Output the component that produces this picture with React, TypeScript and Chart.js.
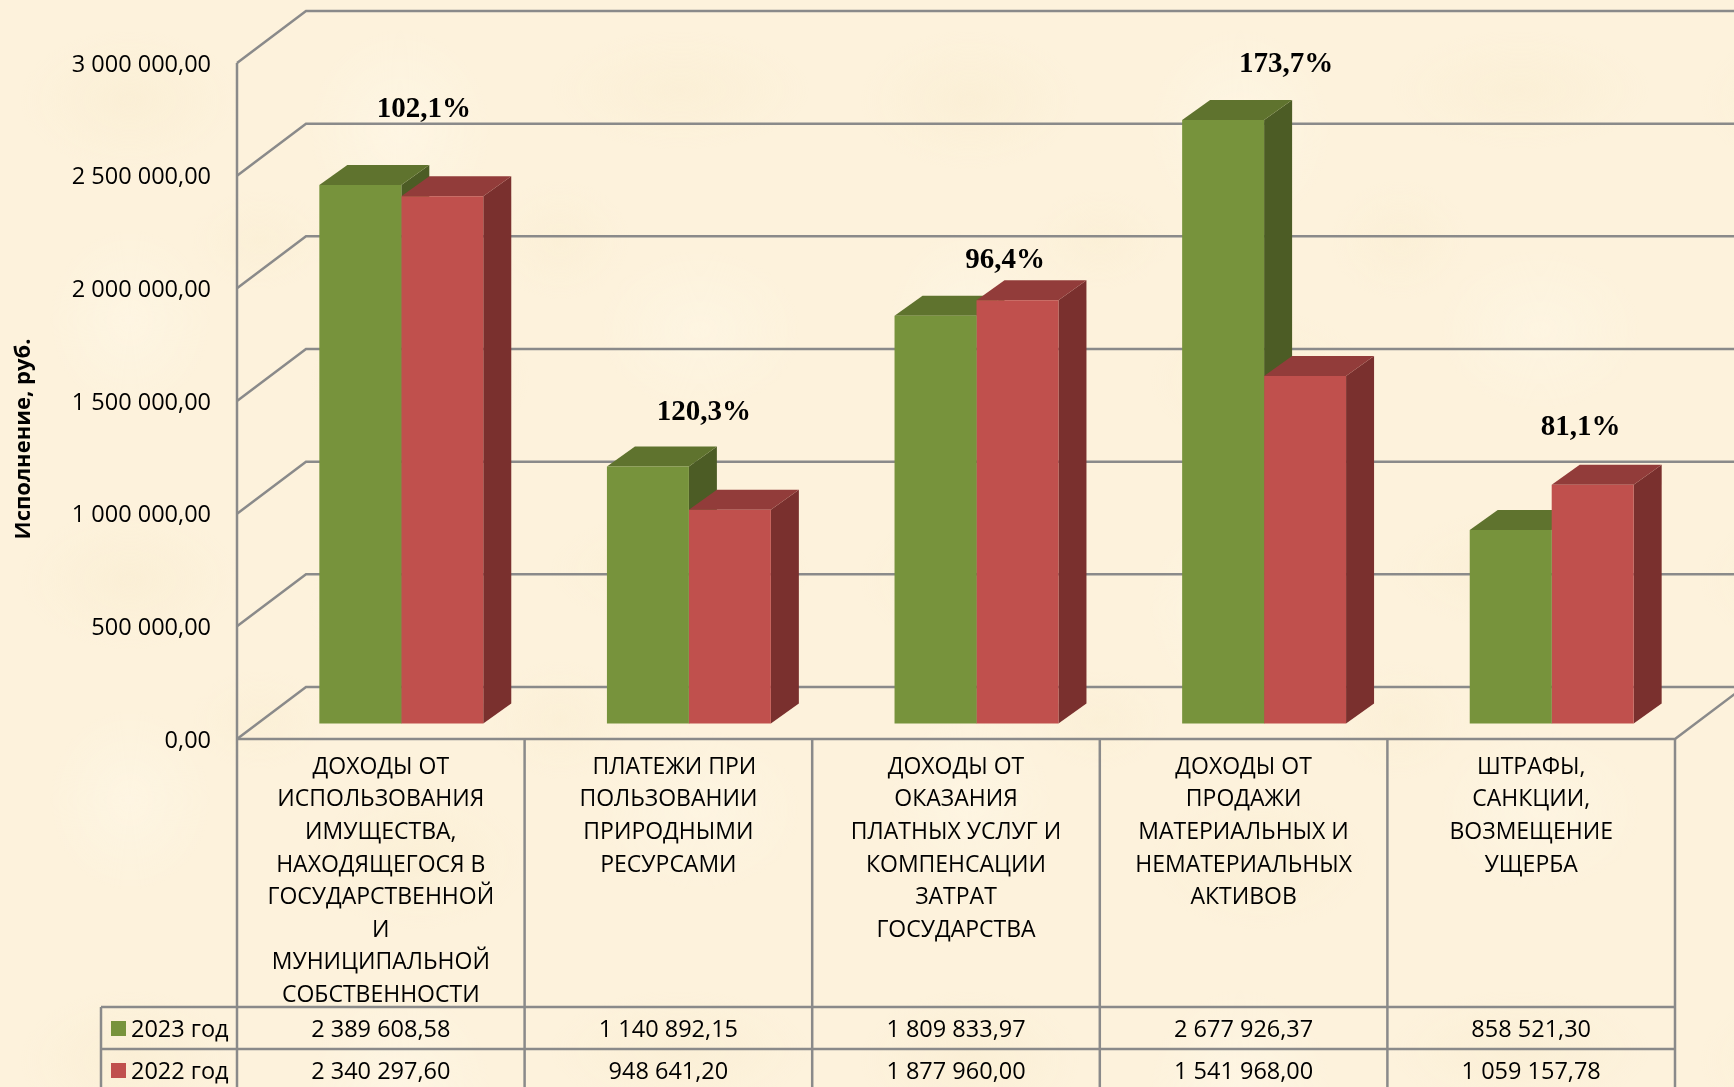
import React, { useEffect, useRef } from "react";
import { Chart, registerables } from "chart.js";

Chart.register(...registerables);

const categories = [
  ["ДОХОДЫ ОТ", "ИСПОЛЬЗОВАНИЯ", "ИМУЩЕСТВА,", "НАХОДЯЩЕГОСЯ В", "ГОСУДАРСТВЕННОЙ", "И", "МУНИЦИПАЛЬНОЙ", "СОБСТВЕННОСТИ"],
  ["  ПЛАТЕЖИ ПРИ", "ПОЛЬЗОВАНИИ", "ПРИРОДНЫМИ", "РЕСУРСАМИ"],
  ["ДОХОДЫ ОТ", "ОКАЗАНИЯ", "ПЛАТНЫХ УСЛУГ И", "КОМПЕНСАЦИИ", "ЗАТРАТ", "ГОСУДАРСТВА"],
  ["ДОХОДЫ ОТ", "ПРОДАЖИ", "МАТЕРИАЛЬНЫХ И", "НЕМАТЕРИАЛЬНЫХ", "АКТИВОВ"],
  ["ШТРАФЫ,", "САНКЦИИ,", "ВОЗМЕЩЕНИЕ", "УЩЕРБА"],
];
const series2023 = [2389608.58, 1140892.15, 1809833.97, 2677926.37, 858521.3];
const series2022 = [2340297.6, 948641.2, 1877960.0, 1541968.0, 1059157.78];
const table2023 = ["2 389 608,58", "1 140 892,15", "1 809 833,97", "2 677 926,37", "858 521,30"];
const table2022 = ["2 340 297,60", "948 641,20", "1 877 960,00", "1 541 968,00", "1 059 157,78"];
const percentLabels = ["102,1%", "120,3%", "96,4%", "173,7%", "81,1%"];
const yTicks = ["0,00", "500 000,00", "1 000 000,00", "1 500 000,00", "2 000 000,00", "2 500 000,00", "3 000 000,00"];

// layout
const W = 1734, H = 1087;
const L = 237, R = 1675, T = 63, B = 739;
const WALL_DX = 69, WALL_DY = 52;
const PLANE_DX = 20.5, PLANE_DY = -15.5;
const BAR_DX = 28, BAR_DY = 20;
const ROW_LINES = [1007, 1049];
const ROW_CENTERS = [1030, 1072];
const TABLE_LEFT = 101;
const labelNudge = [[22.5, -76], [15, -54], [28.5, -40], [22, -56], [29, -57]];
const GRID = "#8a8a8a";
const SANS = "'Open Sans', sans-serif";
const FONT_SIZE = 23;
const NUM_SIZE = 23.5;

const bg = [
  "radial-gradient(ellipse 110px 70px at 130px 100px, rgba(244,228,190,.2), transparent)",
  "radial-gradient(ellipse 90px 100px at 400px 130px, rgba(255,251,238,.4), transparent)",
  "radial-gradient(ellipse 130px 60px at 680px 90px, rgba(244,228,190,.18), transparent)",
  "radial-gradient(ellipse 80px 90px at 130px 320px, rgba(255,251,238,.35), transparent)",
  "radial-gradient(ellipse 110px 70px at 420px 380px, rgba(244,228,190,.18), transparent)",
  "radial-gradient(ellipse 100px 80px at 700px 330px, rgba(255,251,238,.3), transparent)",
  "radial-gradient(ellipse 70px 50px at 260px 240px, rgba(244,228,190,.16), transparent)",
  "radial-gradient(ellipse 70px 60px at 560px 240px, rgba(244,228,190,.16), transparent)",
].join(",");

function line(ctx: any, pts: number[][], color = GRID, w = 2.5) {
  ctx.beginPath();
  ctx.moveTo(pts[0][0], pts[0][1]);
  pts.slice(1).forEach((p) => ctx.lineTo(p[0], p[1]));
  ctx.strokeStyle = color;
  ctx.lineWidth = w;
  ctx.stroke();
}
function poly(ctx: any, pts: number[][], color: string) {
  ctx.beginPath();
  ctx.moveTo(pts[0][0], pts[0][1]);
  pts.slice(1).forEach((p) => ctx.lineTo(p[0], p[1]));
  ctx.closePath();
  ctx.fillStyle = color;
  ctx.fill();
}

const faces = [
  { top: "#5F732E", side: "#4C5C25" },
  { top: "#923C3A", side: "#7A302E" },
];
const keyColors = ["#77933C", "#C0504D"];
const legendNames = ["2023 год", "2022 год"];

const scene3d = {
  id: "scene3d",
  beforeDatasetsDraw(chart: any) {
    const { ctx, scales } = chart;
    ctx.save();
    // walls and grid
    scales.y.ticks.forEach((t: any) => {
      const y = scales.y.getPixelForValue(t.value);
      line(ctx, [[L, y], [L + WALL_DX, y - WALL_DY], [W + 10, y - WALL_DY]]);
    });
    line(ctx, [[L, T], [L, H + 5]]);
    line(ctx, [[L, B], [R, B], [R + WALL_DX, B - WALL_DY]]);
    const cols = categories.length;
    for (let i = 1; i <= cols; i++) {
      const x = L + ((R - L) * i) / cols;
      line(ctx, [[x, B], [x, H + 5]]);
    }
    ROW_LINES.forEach((y) => line(ctx, [[TABLE_LEFT, y], [R, y]]));
    line(ctx, [[TABLE_LEFT, ROW_LINES[0]], [TABLE_LEFT, H + 5]]);

    // data table
    ctx.font = `${NUM_SIZE}px ${SANS}`;
    ctx.fillStyle = "#000";
    ctx.textBaseline = "middle";
    [table2023, table2022].forEach((row, r) => {
      ctx.textAlign = "center";
      ctx.fillStyle = "#000";
      row.forEach((txt, i) => {
        ctx.fillText(txt, scales.x.getPixelForValue(i), ROW_CENTERS[r]);
      });
      ctx.fillStyle = keyColors[r];
      ctx.fillRect(TABLE_LEFT + 10, ROW_CENTERS[r] - 9, 15, 15);
      ctx.fillStyle = "#000";
      ctx.textAlign = "left";
      ctx.fillText(legendNames[r], TABLE_LEFT + 30, ROW_CENTERS[r]);
    });

    // axis title
    ctx.save();
    ctx.translate(24, 439);
    ctx.rotate(-Math.PI / 2);
    ctx.font = `bold 22px ${SANS}`;
    ctx.textAlign = "center";
    ctx.fillText("Исполнение, руб.", 0, 0);
    ctx.restore();
    ctx.restore();

    // bar plane: extrusions behind the library's own fronts
    ctx.save();
    ctx.translate(PLANE_DX, PLANE_DY);
    [0, 1].forEach((d) => {
      chart.getDatasetMeta(d).data.forEach((el: any) => {
        const xl = el.x - el.width / 2, xr = el.x + el.width / 2;
        poly(ctx, [[xr, el.y], [xr + BAR_DX, el.y - BAR_DY], [xr + BAR_DX, el.base - BAR_DY], [xr, el.base]], faces[d].side);
        poly(ctx, [[xl, el.y], [xl + BAR_DX, el.y - BAR_DY], [xr + BAR_DX, el.y - BAR_DY], [xr, el.y]], faces[d].top);
      });
    });
  },
  afterDatasetsDraw(chart: any) {
    const { ctx } = chart;
    ctx.restore();
    const a = chart.getDatasetMeta(0).data;
    const b = chart.getDatasetMeta(1).data;
    ctx.save();
    ctx.font = "bold 29px 'Liberation Serif', serif";
    ctx.textAlign = "center";
    ctx.textBaseline = "middle";
    ctx.fillStyle = "#000";
    percentLabels.forEach((txt, i) => {
      const cx = (a[i].x + b[i].x) / 2 + PLANE_DX;
      const top = Math.min(a[i].y, b[i].y) + PLANE_DY;
      ctx.fillText(txt, cx + labelNudge[i][0], top + labelNudge[i][1]);
    });
    ctx.restore();
  },
};

export default function App() {
  const ref = useRef<HTMLCanvasElement>(null);
  useEffect(() => {
    const chart = new Chart(ref.current!, {
      type: "bar",
      data: {
        labels: categories as any,
        datasets: [
          { label: "2023 год", data: series2023, backgroundColor: "#77933C", clip: false as any },
          { label: "2022 год", data: series2022, backgroundColor: "#C0504D", clip: false as any },
        ],
      },
      options: {
        animation: false,
        responsive: false,
        layout: { padding: { left: 0, top: T, right: W - R, bottom: 0 } },
        plugins: { legend: { display: false }, tooltip: { enabled: false } },
        datasets: { bar: { categoryPercentage: 0.57, barPercentage: 1 } },
        scales: {
          x: {
            grid: { display: false },
            border: { display: false },
            ticks: {
              autoSkip: false,
              maxRotation: 0,
              minRotation: 0,
              padding: 4,
              color: "#000",
              font: { family: SANS, size: FONT_SIZE, lineHeight: 32.6 / FONT_SIZE },
            },
            afterFit(s: any) { s.height = H - B; },
          },
          y: {
            min: 0,
            max: 3000000,
            grid: { display: false },
            border: { display: false },
            ticks: {
              stepSize: 500000,
              padding: 18,
              labelOffset: 2,
              color: "#000",
              font: { family: SANS, size: NUM_SIZE },
              callback: (v: any) => yTicks[Math.round(Number(v) / 500000)],
            },
            afterFit(s: any) { s.width = L; },
          },
        },
      },
      plugins: [scene3d],
    } as any);
    return () => chart.destroy();
  }, []);
  return (
    <div style={{ position: "absolute", left: 0, top: 0, width: W, height: H, overflow: "hidden",
      backgroundColor: "#FDF2DC", backgroundImage: bg, backgroundSize: "840px 480px" }}>
      <canvas ref={ref} width={W} height={H} style={{ display: "block" }} />
    </div>
  );
}
